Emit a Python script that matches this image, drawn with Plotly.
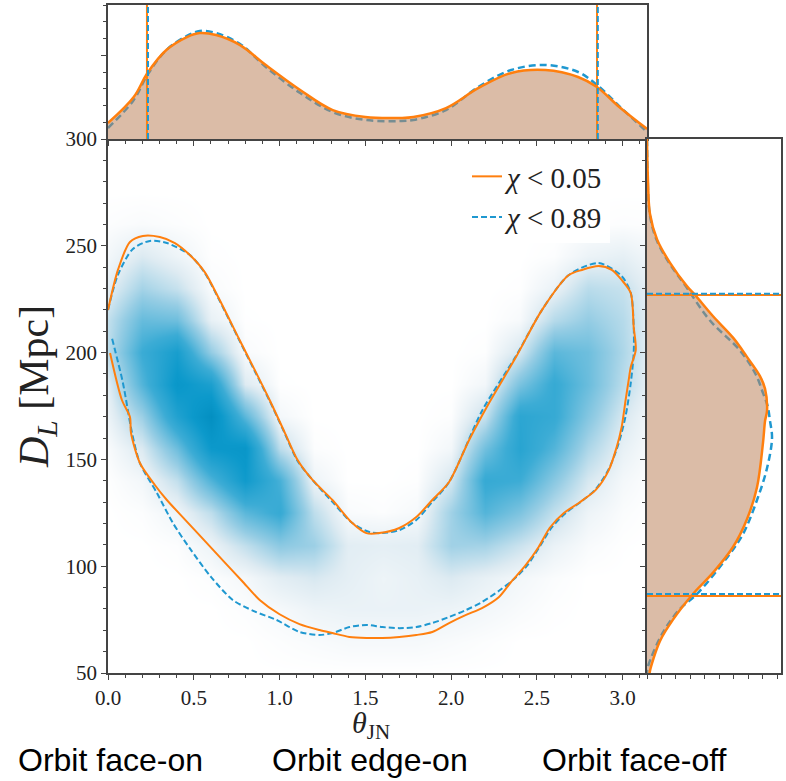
import math
import plotly.graph_objects as go

# ---------------- data ----------------
# 2-D posterior density grid (rows follow dl_grid, columns follow theta_grid)
theta_grid = [0.0, 0.2, 0.4, 0.6, 0.8, 1.0, 1.2, 1.4, 1.6, 1.8, 2.0, 2.2, 2.4, 2.6, 2.8, 3.0, 3.1416]
dl_grid = [50, 65, 80, 95, 110, 125, 140, 155, 170, 185, 200, 215, 230, 245, 260, 275, 290]
density = [
    [0, 0, 0, 0, 0, 0, 0, 0, 0, 0, 0, 0, 0, 0, 0, 0, 0],
    [0, 0, 0, 0, 0, 0.1, 0.2, 0.3, 0.3, 0.3, 0.2, 0.1, 0, 0, 0, 0, 0],
    [0, 0, 0, 0, 0.1, 0.3, 0.6, 0.7, 0.7, 0.7, 0.6, 0.4, 0.2, 0.05, 0, 0, 0],
    [0, 0, 0, 0.1, 0.35, 1.0, 1.3, 0.9, 0.6, 0.8, 1.2, 0.8, 0.4, 0.15, 0, 0, 0],
    [0, 0, 0.1, 0.6, 1.8, 3.1, 2.7, 1.0, 0.9, 1.0, 2.6, 2.5, 1.6, 0.7, 0.2, 0.03, 0],
    [0, 0.1, 0.5, 1.9, 4.4, 5.5, 1.9, 0.2, 0.1, 0.3, 2.6, 4.6, 3.5, 1.8, 0.6, 0.15, 0.04],
    [0.05, 0.4, 1.8, 4.7, 7.4, 4.9, 0.6, 0, 0, 0.06, 1.4, 5.5, 5.2, 3.2, 1.3, 0.37, 0.12],
    [0.2, 1.2, 3.9, 7.6, 8.0, 1.9, 0.1, 0, 0, 0, 0.4, 3.8, 6.2, 4.6, 2.3, 0.8, 0.3],
    [0.65, 2.7, 6.5, 9.0, 4.4, 0.36, 0, 0, 0, 0, 0.08, 1.7, 6.0, 5.5, 3.3, 1.3, 0.5],
    [1.0, 4.6, 7.9, 6.8, 1.15, 0.03, 0, 0, 0, 0, 0, 0.43, 3.6, 5.5, 4.0, 2.0, 0.9],
    [2.0, 5.3, 7.0, 2.9, 0.2, 0, 0, 0, 0, 0, 0, 0.07, 1.4, 4.4, 3.9, 2.3, 1.0],
    [1.8, 4.1, 3.9, 0.8, 0.03, 0, 0, 0, 0, 0, 0, 0, 0.27, 2.1, 2.9, 2.1, 1.0],
    [0.9, 2.5, 1.7, 0.2, 0, 0, 0, 0, 0, 0, 0, 0, 0.04, 0.7, 2.0, 1.7, 0.9],
    [0.4, 1.2, 0.58, 0.05, 0, 0, 0, 0, 0, 0, 0, 0, 0, 0.1, 0.65, 0.87, 0.5],
    [0.1, 0.2, 0.1, 0, 0, 0, 0, 0, 0, 0, 0, 0, 0, 0, 0.05, 0.1, 0.08],
    [0, 0, 0, 0, 0, 0, 0, 0, 0, 0, 0, 0, 0, 0, 0, 0, 0],
    [0, 0, 0, 0, 0, 0, 0, 0, 0, 0, 0, 0, 0, 0, 0, 0, 0],
]

# 90% credible contour, chi < 0.05 (orange)
contour_a_theta = [0.0, 0.058, 0.128, 0.203, 0.302, 0.390, 0.477, 0.564, 0.651, 0.767, 0.855, 0.942,
                   1.029, 1.105, 1.192, 1.308, 1.424, 1.506, 1.581, 1.698, 1.797, 1.890, 1.988, 2.105,
                   2.221, 2.378, 2.529, 2.686, 2.762, 2.860, 2.936, 2.994, 3.047, 3.064, 3.076, 3.047,
                   3.035, 3.017, 2.994, 2.965, 2.919, 2.843, 2.744, 2.657, 2.575, 2.510, 2.430, 2.349,
                   2.279, 2.180, 2.087, 1.988, 1.890, 1.797, 1.698, 1.600, 1.506, 1.407, 1.308, 1.233,
                   1.116, 1.000, 0.884, 0.780, 0.680, 0.560, 0.450, 0.343, 0.273, 0.186, 0.134, 0.128,
                   0.081, 0.012]
contour_a_dl = [219.9, 238.7, 251.8, 254.6, 254.1, 251.3, 245.7, 237.7, 224.6, 205.9, 191.9, 177.8,
                162.8, 149.7, 140.4, 131.0, 120.2, 115.5, 115.5, 117.9, 123.0, 131.0, 139.4, 159.1,
                176.4, 197.9, 219.9, 236.3, 238.7, 240.5, 238.7, 234.0, 227.9, 212.0, 201.2, 193.3,
                187.2, 177.8, 165.2, 155.8, 145.0, 135.7, 129.6, 124.9, 118.0, 109.0, 100.0, 92.6,
                85.6, 80.4, 77.2, 73.4, 69.2, 67.8, 66.9, 66.4, 66.4, 66.9, 68.7, 70.1,
                72.9, 77.5, 84.2, 93.2, 101.8, 112.2, 121.7, 131.0, 138.0, 148.3, 162.4, 169.9,
                177.8, 199.8]

# 90% credible contour, chi < 0.89 (blue dashed)
contour_b_theta = [0.0, 0.058, 0.145, 0.244, 0.343, 0.477, 0.564, 0.651, 0.767, 0.855, 0.942, 1.029,
                   1.105, 1.192, 1.308, 1.424, 1.523, 1.599, 1.698, 1.797, 1.890, 1.988, 2.180, 2.378,
                   2.529, 2.686, 2.860, 2.994, 3.047, 3.064, 3.064, 3.047, 3.017, 2.977, 2.919, 2.843,
                   2.756, 2.669, 2.585, 2.515, 2.440, 2.360, 2.279, 2.180, 2.087, 1.988, 1.890, 1.797,
                   1.698, 1.600, 1.506, 1.407, 1.308, 1.233, 1.116, 0.983, 0.850, 0.727, 0.600, 0.480,
                   0.380, 0.285, 0.186, 0.140, 0.087, 0.023]
contour_b_dl = [219.9, 236.4, 248.5, 252.3, 251.3, 245.7, 237.3, 224.2, 205.5, 191.4, 177.4, 162.4,
                149.3, 140.4, 130.1, 120.2, 116.0, 115.5, 116.9, 121.6, 130.1, 139.4, 172.7, 198.4,
                219.9, 236.3, 241.9, 235.8, 227.9, 212.5, 199.8, 185.8, 170.4, 157.7, 145.5, 136.1,
                130.1, 125.0, 118.0, 109.0, 100.0, 93.5, 88.5, 83.2, 79.5, 76.2, 73.4, 71.5,
                71.0, 71.5, 72.5, 71.5, 68.7, 67.8, 69.2, 74.8, 79.0, 84.2, 95.0, 108.0,
                120.0, 134.3, 148.3, 162.4, 185.8, 206.8]

# 1-D marginal of theta_JN (density, arbitrary units)
marg_theta = [0.0, 0.15, 0.23, 0.34, 0.46, 0.535, 0.63, 0.77, 0.92, 1.12, 1.31, 1.5, 1.7, 1.78,
              1.97, 2.16, 2.35, 2.55, 2.74, 2.85, 2.98, 3.1416]
marg_theta_a = [0.119, 0.313, 0.493, 0.664, 0.761, 0.791, 0.776, 0.701, 0.552, 0.366, 0.216, 0.164,
                0.157, 0.164, 0.231, 0.381, 0.493, 0.515, 0.463, 0.388, 0.239, 0.075]
marg_theta_b = [0.082, 0.291, 0.478, 0.664, 0.769, 0.806, 0.791, 0.709, 0.537, 0.343, 0.201, 0.142,
                0.134, 0.142, 0.216, 0.390, 0.515, 0.552, 0.500, 0.403, 0.246, 0.052]

# 1-D marginal of D_L (density, arbitrary units)
marg_dl_a_dl = [300, 281, 265, 253, 242, 231, 227, 217, 207, 198, 189, 183, 173, 168, 158, 137, 122,
                109, 97, 87, 75, 65, 51, 50]
marg_dl_a = [0.0, 0.007, 0.022, 0.075, 0.172, 0.299, 0.358, 0.493, 0.642, 0.746, 0.843, 0.881, 0.896,
             0.881, 0.866, 0.821, 0.746, 0.642, 0.493, 0.343, 0.194, 0.097, 0.022, 0.02]
marg_dl_b_dl = [300, 281, 265, 253, 242, 231, 215, 201, 190, 181, 175, 168, 160, 146, 131, 115, 104,
                87, 80, 69, 53, 50]
marg_dl_b = [0.0, 0.005, 0.02, 0.07, 0.165, 0.29, 0.47, 0.694, 0.81, 0.866, 0.9, 0.918, 0.933, 0.896,
             0.821, 0.716, 0.597, 0.373, 0.246, 0.119, 0.007, 0.0]

# 90% credible intervals
ci_theta_a = [0.227, 2.85]
ci_theta_b = [0.233, 2.855]
ci_dl_a = [86.0, 227.0]
ci_dl_b = [87.0, 227.5]

labels = ["<i>χ</i> < 0.05", "<i>χ</i> < 0.89"]
orbit_labels = ["Orbit face-on", "Orbit edge-on", "Orbit face-off"]

# ---------------- styling ----------------
W, H = 786, 781
ORANGE = "#ff7f0e"
BLUE = "#1f98d0"
FILL = "rgba(190,133,95,0.55)"
AX = "#444444"
TXT = "#222222"
SERIF = "Liberation Serif"
SANS = "Liberation Sans"


def px_x(p):
    return p / W


def px_y(p):
    return 1 - p / H


main_x = [px_x(108), px_x(647)]
main_y = [px_y(673), px_y(139)]
top_y = [px_y(139), px_y(5)]
right_x = [px_x(647), px_x(781)]

fig = go.Figure()

colorscale = [
    [0.0, "rgb(255,255,255)"],
    [0.03, "rgb(246,249,251)"],
    [0.12, "rgb(222,235,242)"],
    [0.3, "rgb(150,205,228)"],
    [0.55, "rgb(60,172,213)"],
    [0.8, "rgb(12,153,203)"],
    [1.0, "rgb(0,140,190)"],
]

fig.add_trace(go.Heatmap(x=theta_grid, y=dl_grid, z=density, zsmooth="best",
                         colorscale=colorscale, zmin=0, zmax=9.5, showscale=False,
                         hoverinfo="skip", xaxis="x", yaxis="y"))

fig.add_trace(go.Scatter(x=contour_b_theta, y=contour_b_dl, mode="lines", name=labels[1],
                         line=dict(color=BLUE, width=2, dash="6px,3px", shape="spline", smoothing=0.8),
                         xaxis="x", yaxis="y", legendrank=2))
fig.add_trace(go.Scatter(x=contour_a_theta, y=contour_a_dl, mode="lines", name=labels[0],
                         line=dict(color=ORANGE, width=2, shape="spline", smoothing=0.8),
                         xaxis="x", yaxis="y", legendrank=1))

# top marginal
fig.add_trace(go.Scatter(x=marg_theta, y=marg_theta_b, mode="lines", showlegend=False,
                         line=dict(color=BLUE, width=2.5, dash="7px,4px", shape="spline"),
                         xaxis="x2", yaxis="y2"))
fig.add_trace(go.Scatter(x=marg_theta, y=marg_theta_a, mode="lines", showlegend=False,
                         fill="tozeroy", fillcolor=FILL,
                         line=dict(color=ORANGE, width=2.5, shape="spline"),
                         xaxis="x2", yaxis="y2"))
for v in ci_theta_a:
    fig.add_trace(go.Scatter(x=[v, v], y=[0, 1], mode="lines", showlegend=False,
                             line=dict(color=ORANGE, width=2), xaxis="x2", yaxis="y2"))
for v in ci_theta_b:
    fig.add_trace(go.Scatter(x=[v, v], y=[0, 1], mode="lines", showlegend=False,
                             line=dict(color=BLUE, width=2, dash="6px,3px"), xaxis="x2", yaxis="y2"))

# right marginal
fig.add_trace(go.Scatter(x=marg_dl_b, y=marg_dl_b_dl, mode="lines", showlegend=False,
                         line=dict(color=BLUE, width=2.5, dash="7px,4px", shape="spline"),
                         xaxis="x3", yaxis="y3"))
fig.add_trace(go.Scatter(x=marg_dl_a, y=marg_dl_a_dl, mode="lines", showlegend=False,
                         fill="tozerox", fillcolor=FILL,
                         line=dict(color=ORANGE, width=2.5, shape="spline"),
                         xaxis="x3", yaxis="y3"))
for v in ci_dl_a:
    fig.add_trace(go.Scatter(x=[0, 1], y=[v, v], mode="lines", showlegend=False,
                             line=dict(color=ORANGE, width=2), xaxis="x3", yaxis="y3"))
for v in ci_dl_b:
    fig.add_trace(go.Scatter(x=[0, 1], y=[v, v], mode="lines", showlegend=False,
                             line=dict(color=BLUE, width=2, dash="6px,3px"), xaxis="x3", yaxis="y3"))

tickfont = dict(family=SERIF, size=21, color=TXT)
common = dict(showgrid=False, zeroline=False, showline=True, linecolor=AX, linewidth=1.5,
              ticks="outside", tickcolor=AX, tickwidth=1, ticklen=5, automargin=False)
minor_x = dict(dtick=0.1, ticks="outside", ticklen=3, tickcolor=AX)
minor_y = dict(dtick=10, ticks="outside", ticklen=3, tickcolor=AX)

fig.update_layout(
    width=W, height=H, margin=dict(l=0, r=0, t=0, b=0, autoexpand=False),
    paper_bgcolor="white", plot_bgcolor="white",
    font=dict(family=SERIF, color=TXT),
    xaxis=dict(domain=main_x, anchor="y", range=[0, math.pi], tick0=0, dtick=0.5, tickformat=".1f",
               tickfont=tickfont, minor=minor_x, **common),
    yaxis=dict(domain=main_y, anchor="x", range=[50, 300], tick0=50, dtick=50, tickfont=tickfont,
               minor=minor_y, **common),
    xaxis2=dict(domain=main_x, anchor="y2", range=[0, math.pi], tick0=0, dtick=0.5, showticklabels=False,
                mirror=True, minor=minor_x, **common),
    yaxis2=dict(domain=top_y, anchor="x2", range=[0, 1], tick0=0, dtick=0.625, showticklabels=False,
                mirror=True, minor=dict(dtick=0.125, ticks="outside", ticklen=3, tickcolor=AX), **common),
    xaxis3=dict(domain=right_x, anchor="y3", range=[0, 1], tick0=0, dtick=0.108, showticklabels=False,
                mirror=True, **{**common, "ticklen": 4}),
    yaxis3=dict(domain=main_y, anchor="x3", range=[50, 300], tick0=50, dtick=50, showticklabels=False,
                mirror=True, minor=minor_y, **common),
    legend=dict(x=px_x(467), y=px_y(151), xanchor="left", yanchor="top",
                bgcolor="rgba(255,255,255,0.9)", borderwidth=0,
                font=dict(family=SERIF, size=29, color=TXT), tracegroupgap=0),
    showlegend=True,
)

annotations = [
    dict(text="<i>D</i><sub><i>L</i></sub> [Mpc]", x=px_x(37), y=px_y(387), textangle=-90,
         font=dict(family=SERIF, size=42, color=TXT)),
    dict(text="<i>θ</i><sub>JN</sub>", x=px_x(371), y=px_y(725),
         font=dict(family=SERIF, size=30, color=TXT)),
    dict(text=orbit_labels[0], x=px_x(110), y=px_y(760), font=dict(family=SANS, size=32, color="black")),
    dict(text=orbit_labels[1], x=px_x(370), y=px_y(760), font=dict(family=SANS, size=32, color="black")),
    dict(text=orbit_labels[2], x=px_x(634), y=px_y(760), font=dict(family=SANS, size=32, color="black")),
]
for a in annotations:
    a.update(xref="paper", yref="paper", showarrow=False, xanchor="center", yanchor="middle",
             borderpad=0)
fig.update_layout(annotations=annotations)

fig.write_html("out.html")
